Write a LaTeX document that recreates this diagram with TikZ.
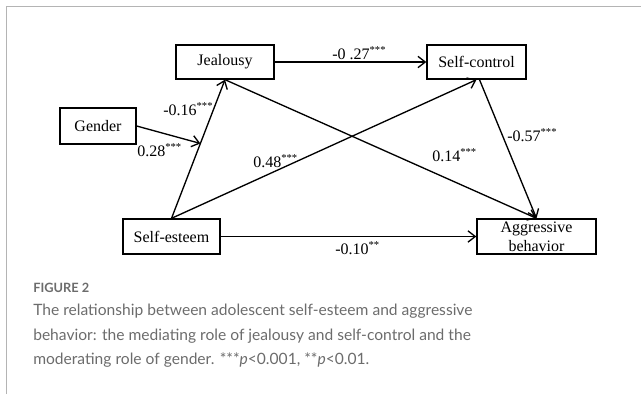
\documentclass[tikz,border=0pt]{standalone}
\usepackage{fontspec}
\setmainfont{Liberation Serif}
\newfontfamily\capfont{Lato}
\usetikzlibrary{arrows.meta,calc}
\definecolor{framegray}{HTML}{B4B4B4}
\definecolor{captxt}{HTML}{6C6C6C}
\begin{document}
\begin{tikzpicture}[x=0.75pt,y=-0.75pt,
  box/.style={draw,line width=1pt,rectangle,inner sep=0pt,font=\fontsize{12}{14.2}\selectfont,align=center},
  arr/.style={line width=1pt,-{Straight Barb[length=5.5pt,width=8.5pt,line width=1pt]}},
  lab/.style={font=\fontsize{12}{13.5}\selectfont,inner sep=0pt,anchor=west},
  captext/.style={font=\capfont\fontsize{11.7}{14}\selectfont,text=captxt,inner sep=0pt,anchor=base west}]
\useasboundingbox (0,0) rectangle (641,394);
\draw[framegray,line width=1.1pt] (6.5,394) -- (6.5,6.5) -- (641,6.5);
% nodes
\node[box,minimum width=98*0.75pt,minimum height=34*0.75pt] (je) at (225,62) {Jealousy};
\node[box,minimum width=76*0.75pt,minimum height=36*0.75pt] (gd) at (98,126) {Gender};
\node[box,minimum width=97*0.75pt,minimum height=35*0.75pt] (se) at (171.5,236.5) {Self-esteem};
\node[box,minimum width=99*0.75pt,minimum height=34*0.75pt] (sc) at (476.5,62) {Self-control};
\node[box,minimum width=119*0.75pt,minimum height=35*0.75pt] (ag) at (536.5,236.5) {Aggressive\\behavior};
% connectors
\draw[arr] (je.east) -- (sc.west);
\draw[arr] (se.north) -- (je.south);
\coordinate (mod) at ($(se.north)!0.54!(je.south)$);
\draw[arr] (gd.east) -- (mod);
\draw[arr] (se.north) -- (sc.south);
\draw[arr] (je.south) -- (ag.north);
\draw[arr] ([xshift=3*0.75pt]sc.south) -- (ag.north);
\draw[arr] (se.east) -- (ag.west);
% labels
\node[lab] (l1) at (332,53) {-0 .27\textsuperscript{***}};
\node[lab] (l2) at (163,109) {-0.16\textsuperscript{***}};
\node[lab] (l3) at (137,150) {0.28\textsuperscript{***}};
\node[lab] (l4) at (253,161) {0.48\textsuperscript{***}};
\node[lab] (l5) at (432,155) {0.14\textsuperscript{***}};
\node[lab] (l6) at (507,135) {-0.57\textsuperscript{***}};
\node[lab] (l7) at (335,248) {-0.10\textsuperscript{**}};
% caption
\node[captext,font=\capfont\bfseries\fontsize{9.6}{11}\selectfont] (fig) at (33,292) {FIGURE 2};
\node[captext] (c1) at (33,315) {The relationship between adolescent self-esteem and aggressive};
\node[captext] (c2) at (33,340) {behavior: the mediating role of jealousy and self-control and the};
\node[captext] (c3) at (33,364) {moderating role of gender. ***\textit{p}<0.001, **\textit{p}<0.01.};
\end{tikzpicture}
\end{document}
